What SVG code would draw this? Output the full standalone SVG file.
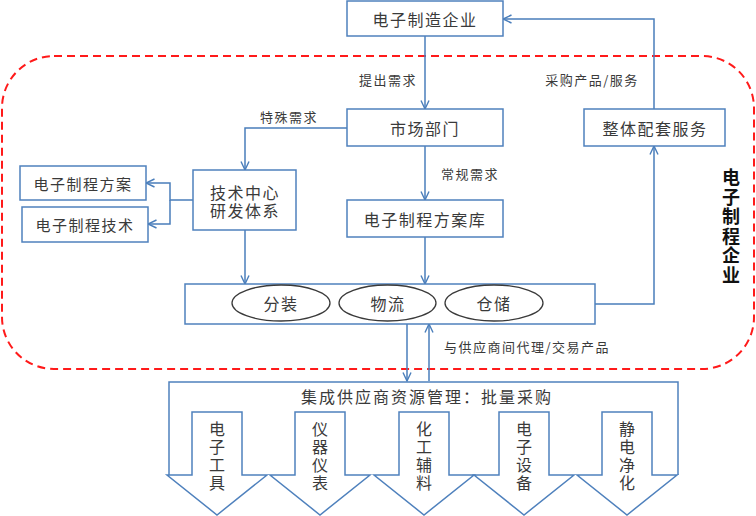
<svg xmlns="http://www.w3.org/2000/svg" width="756" height="516" viewBox="0 0 756 516">
<style>
.box{fill:#fff;stroke:#4f81bd;stroke-width:1.5}
.t{font-family:"Noto Sans CJK SC","Noto Sans",sans-serif;fill:#3a3a3a;text-anchor:middle;dominant-baseline:central}
.b{font-size:16px;letter-spacing:1.5px}
.s{font-size:13px;letter-spacing:1.5px}
.c{fill:none;stroke:#4a7ebb;stroke-width:1.5}
.ell{fill:#fff;stroke:#3a3a3a;stroke-width:1.3}
</style>
<defs>
<marker id="ah" viewBox="0 0 10 10" refX="9.5" refY="5" markerWidth="10" markerHeight="10" markerUnits="userSpaceOnUse" orient="auto">
<path d="M1,1 L9.5,5 L1,9" fill="none" stroke="#4a7ebb" stroke-width="1.4"/>
</marker>
</defs>
<rect x="2" y="56" width="752" height="313" rx="52" ry="52" fill="none" stroke="#ff1a1a" stroke-width="2" stroke-dasharray="8,5"/>
<g id="connectors">
<path class="c" d="M425,36 V109" marker-end="url(#ah)"/>
<path class="c" d="M347,128 H245 V170" marker-end="url(#ah)"/>
<path class="c" d="M296,200 H170 V183 H146" marker-end="url(#ah)"/>
<path class="c" d="M170,200 V224 H148" marker-end="url(#ah)"/>
<path class="c" d="M425,146 V200" marker-end="url(#ah)"/>
<path class="c" d="M245,230 V284" marker-end="url(#ah)"/>
<path class="c" d="M425,237 V284" marker-end="url(#ah)"/>
<path class="c" d="M595,304 H654 V146" marker-end="url(#ah)"/>
<path class="c" d="M654,109 V19 H503" marker-end="url(#ah)"/>
<path class="c" d="M407,324 V381" marker-end="url(#ah)"/>
<path class="c" d="M429,381 V324" marker-end="url(#ah)"/>
<text class="t s" x="388" y="79">提出需求</text>
<text class="t s" x="289" y="116">特殊需求</text>
<text class="t s" x="470" y="173">常规需求</text>
<text class="t s" x="592" y="79">采购产品/服务</text>
<text class="t s" x="527" y="346">与供应商间代理/交易产品</text>
</g>
<g id="n-maker"><rect class="box" x="347" y="1" width="156" height="35"/><text class="t b" x="425" y="19">电子制造企业</text></g>
<g id="n-market"><rect class="box" x="347" y="109" width="156" height="37"/><text class="t b" x="425" y="128">市场部门</text></g>
<g id="n-lib"><rect class="box" x="347" y="200" width="156" height="37"/><text class="t b" x="425" y="219">电子制程方案库</text></g>
<g id="n-tech"><rect class="box" x="193" y="170" width="103" height="60"/><text class="t b" x="245" y="192">技术中心</text><text class="t b" x="245" y="210">研发体系</text></g>
<g id="n-plan"><rect class="box" x="20" y="166" width="126" height="34"/><text class="t" style="font-size:15px;letter-spacing:1.5px" x="83" y="183">电子制程方案</text></g>
<g id="n-techn"><rect class="box" x="22" y="207" width="126" height="35"/><text class="t" style="font-size:15px;letter-spacing:1.5px" x="85" y="224">电子制程技术</text></g>
<g id="n-service"><rect class="box" x="584" y="109" width="141" height="37"/><text class="t b" x="655" y="128">整体配套服务</text></g>
<g id="n-bar">
<rect class="box" x="185" y="284" width="410" height="40"/>
<ellipse class="ell" cx="281" cy="303" rx="49" ry="18"/><text class="t b" x="281" y="303">分装</text>
<ellipse class="ell" cx="387.5" cy="303" rx="48.5" ry="18"/><text class="t b" x="388" y="303">物流</text>
<ellipse class="ell" cx="494" cy="303" rx="49" ry="18"/><text class="t b" x="494" y="303">仓储</text>
</g>
<g id="n-company-label">
<text style="font-family:'Noto Sans CJK SC',sans-serif;font-size:18px;font-weight:bold;fill:#111;text-anchor:middle;dominant-baseline:central" x="731">
<tspan x="731" y="176">电</tspan><tspan x="731" y="195.5">子</tspan><tspan x="731" y="215">制</tspan><tspan x="731" y="234.5">程</tspan><tspan x="731" y="254">企</tspan><tspan x="731" y="273.5">业</tspan>
</text>
</g>
<g id="n-supply">
<path class="box" d="M169,475 V382 H678 V475"/>
<text class="t" style="font-size:16px;letter-spacing:2px" x="427" y="396">集成供应商资源管理：批量采购</text>
<path class="box" d="M192,412 H242 V475 H267 L217,515 L167,475 H192 Z"/>
<path class="box" d="M295,412 H345 V475 H370 L320,515 L270,475 H295 Z"/>
<path class="box" d="M399,412 H449 V475 H474 L424,515 L374,475 H399 Z"/>
<path class="box" d="M499,412 H549 V475 H574 L524,515 L474,475 H499 Z"/>
<path class="box" d="M602,412 H652 V475 H677 L627,515 L577,475 H602 Z"/>
<text class="t" style="font-size:16px"><tspan x="217" y="428">电</tspan><tspan x="217" y="446">子</tspan><tspan x="217" y="464">工</tspan><tspan x="217" y="482">具</tspan></text>
<text class="t" style="font-size:16px"><tspan x="320" y="428">仪</tspan><tspan x="320" y="446">器</tspan><tspan x="320" y="464">仪</tspan><tspan x="320" y="482">表</tspan></text>
<text class="t" style="font-size:16px"><tspan x="424" y="428">化</tspan><tspan x="424" y="446">工</tspan><tspan x="424" y="464">辅</tspan><tspan x="424" y="482">料</tspan></text>
<text class="t" style="font-size:16px"><tspan x="524" y="428">电</tspan><tspan x="524" y="446">子</tspan><tspan x="524" y="464">设</tspan><tspan x="524" y="482">备</tspan></text>
<text class="t" style="font-size:16px"><tspan x="627" y="428">静</tspan><tspan x="627" y="446">电</tspan><tspan x="627" y="464">净</tspan><tspan x="627" y="482">化</tspan></text>
</g>
</svg>
